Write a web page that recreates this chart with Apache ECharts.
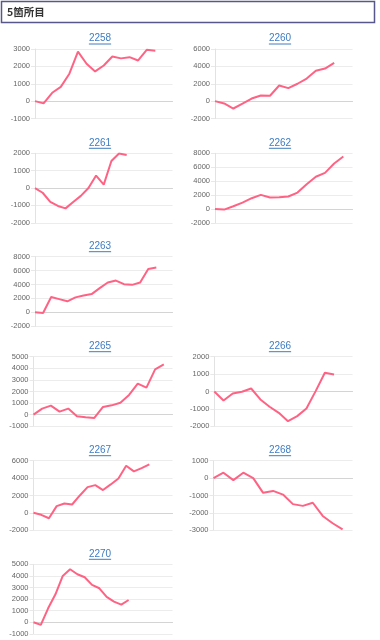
<!DOCTYPE html>
<html><head><meta charset="utf-8">
<script src="https://cdn.jsdelivr.net/npm/echarts@6/dist/echarts.min.js"></script>
<style>html,body{margin:0;padding:0;background:#fff}#c{width:380px;height:640px}</style>
</head><body><div id="c"></div>
<script>
// ---- data ----
const pageTitle = '5箇所目';
const games = ['2258','2260','2261','2262','2263','2265','2266','2267','2268','2270'];
const slotCounts = [17,16,19,16,18,17,16,19,15,20];
const xLabels = ['1','2','3','4','5','6','7','8','9','10','11','12','13','14','15','16','17','18','19','20'];
const d2258 = [0,-130,480,820,1580,2850,2150,1710,2050,2570,2460,2530,2340,2950,2900];
const d2260 = [0,-270,-850,-300,300,650,620,1800,1500,2000,2600,3500,3750,4400];
const d2261 = [0,-270,-800,-1030,-1170,-800,-450,0,720,200,1560,1990,1900];
const d2262 = [0,-100,380,900,1540,2020,1630,1680,1780,2350,3560,4620,5190,6540,7550];
const d2263 = [0,-100,2200,1900,1580,2150,2430,2620,3480,4290,4570,4050,3950,4290,6240,6430];
const d2265 = [0,520,780,260,520,-140,-230,-290,660,800,1030,1700,2670,2330,3910,4340];
const d2266 = [0,-520,-115,-20,170,-460,-880,-1230,-1710,-1420,-980,20,1080,980];
const d2267 = [0,-230,-620,770,1080,960,2000,2960,3190,2620,3270,3960,5420,4770,5150,5580];
const d2268 = [0,310,-120,310,0,-850,-740,-950,-1500,-1600,-1420,-2180,-2600,-2950];
const d2270 = [0,-230,1200,2410,4000,4570,4140,3880,3220,2930,2180,1780,1520,1920];
const seriesData = [d2258,d2260,d2261,d2262,d2263,d2265,d2266,d2267,d2268,d2270];
const yMin  = [-1000,-2000,-2000,-2000,-2000,-1000,-2000,-2000,-3000,-1000];
const yMax  = [3000,6000,2000,8000,8000,5000,2000,6000,1000,5000];
const yStep = [1000,2000,1000,2000,2000,1000,1000,2000,1000,1000];

// ---- layout (pixels) ----
const layout = [
  {col:0, top:49,    left:35},   {col:1, top:49,    left:215},
  {col:0, top:153.3, left:35},   {col:1, top:153.3, left:215},
  {col:0, top:256.7, left:35},
  {col:0, top:356.7, left:33.5}, {col:1, top:356.7, left:214.3},
  {col:0, top:460.7, left:33.5}, {col:1, top:460.7, left:213.5},
  {col:0, top:564.3, left:33.5}
];
const colRight = [172.5, 352.5];
const colTitleX = [100, 280];
const gridH = 69.5;
const lineColor = '#ff6384';
const titleColor = '#3f7cc0';
const titleFont = '10px "Liberation Sans", Arial, sans-serif';

const measure = document.createElement('canvas').getContext('2d');
measure.font = titleFont;

const grid = [], xAxis = [], yAxis = [], series = [];
const graphic = [
  {type:'rect', shape:{x:1.5, y:1.5, width:373, height:21}, style:{fill:'#fff', stroke:'#57578c', lineWidth:1.5}},
  {type:'text', x:7, y:12.5, style:{text:pageTitle, font:'bold 10.5px "Noto Sans CJK JP", sans-serif', fill:'#333', align:'left', verticalAlign:'middle', textAlign:'left', textVerticalAlign:'middle'}}
];

games.forEach((g, i) => {
  const L = layout[i];
  grid.push({left:L.left, top:L.top, width:colRight[L.col]-L.left, height:gridH, containLabel:false});
  xAxis.push({
    type:'category', gridIndex:i, data:xLabels.slice(0, slotCounts[i]), boundaryGap:false,
    axisLabel:{show:false}, axisTick:{show:false},
    axisLine:{show:true, onZero:true, lineStyle:{color:'#d4d4d4', width:1}},
    splitLine:{show:false}
  });
  yAxis.push({
    type:'value', gridIndex:i, min:yMin[i], max:yMax[i], interval:yStep[i],
    axisLine:{show:true, lineStyle:{color:'#e2e2e2', width:1}},
    axisTick:{show:true, length:4, lineStyle:{color:'#e8e8e8'}},
    splitLine:{show:true, lineStyle:{color:'#ececec', width:1}},
    axisLabel:{fontSize:7.5, color:'#666', margin:5, fontFamily:'"Liberation Sans", Arial, sans-serif',
      formatter: v => String(v)}
  });
  series.push({
    type:'line', xAxisIndex:i, yAxisIndex:i, data:seriesData[i],
    showSymbol:false, symbol:'none', smooth:false,
    lineStyle:{color:lineColor, width:2}, itemStyle:{color:lineColor}
  });
  const tx = colTitleX[L.col], ty = L.top - 10.5;
  const w = measure.measureText(g).width;
  graphic.push({type:'text', x:tx, y:ty, style:{text:g, font:titleFont, fill:titleColor, align:'center', verticalAlign:'middle', textAlign:'center', textVerticalAlign:'middle'}});
  graphic.push({type:'line', shape:{x1:tx-w/2, y1:ty+5.5, x2:tx+w/2, y2:ty+5.5}, style:{stroke:titleColor, lineWidth:1}});
});

const chart = echarts.init(document.getElementById('c'), null, {renderer:'canvas'});
chart.setOption({animation:false, grid, xAxis, yAxis, series, graphic});
</script>
</body></html>
